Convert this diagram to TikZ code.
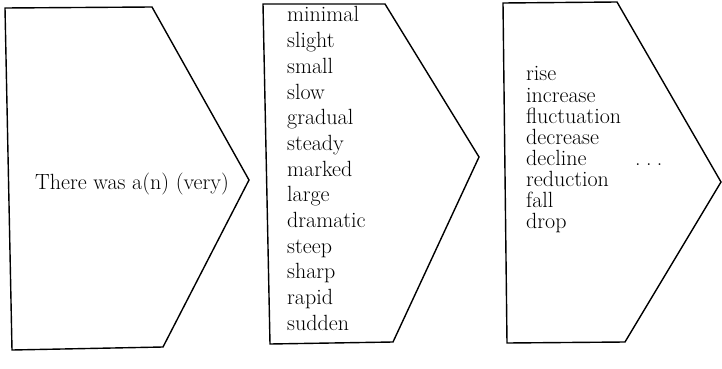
\documentclass[tikz,border=0pt]{standalone}
\begin{document}
\begin{tikzpicture}[x=1pt,y=-1pt,
  chevron/.style={draw=black,line width=1.4pt,line join=miter},
  word/.style={anchor=base west,inner sep=0pt,font=\fontsize{22}{26}\selectfont}]
\useasboundingbox (0,0) rectangle (722,369);
% shapes
\draw[chevron] (5,8) -- (152,7) -- (249,180) -- (163,347) -- (12,350) -- cycle;
\draw[chevron] (263,4) -- (385,4) -- (479,157) -- (393,342) -- (270,344) -- cycle;
\draw[chevron] (503,3) -- (617,2) -- (721,182) -- (625,342) -- (507,343) -- cycle;
% texts
\node[word] (t1) at (35,189) {There was a(n) (very)};
\foreach \w [count=\i] in {minimal,slight,small,slow,gradual,steady,marked,large,dramatic,steep,sharp,rapid,sudden}
  \node[word,name=a\i] at (287,{22+(\i-1)*25.67}) {\w};
\foreach \w [count=\i] in {rise,increase,fluctuation,decrease,decline,reduction,fall,drop}
  \node[word,name=b\i] at (526,{81+(\i-1)*21.1}) {\w};
\node[word] (dots) at (635,{81+4*21.1}) {.\hspace{5.4pt}.\hspace{5.4pt}.};
\end{tikzpicture}
\end{document}
